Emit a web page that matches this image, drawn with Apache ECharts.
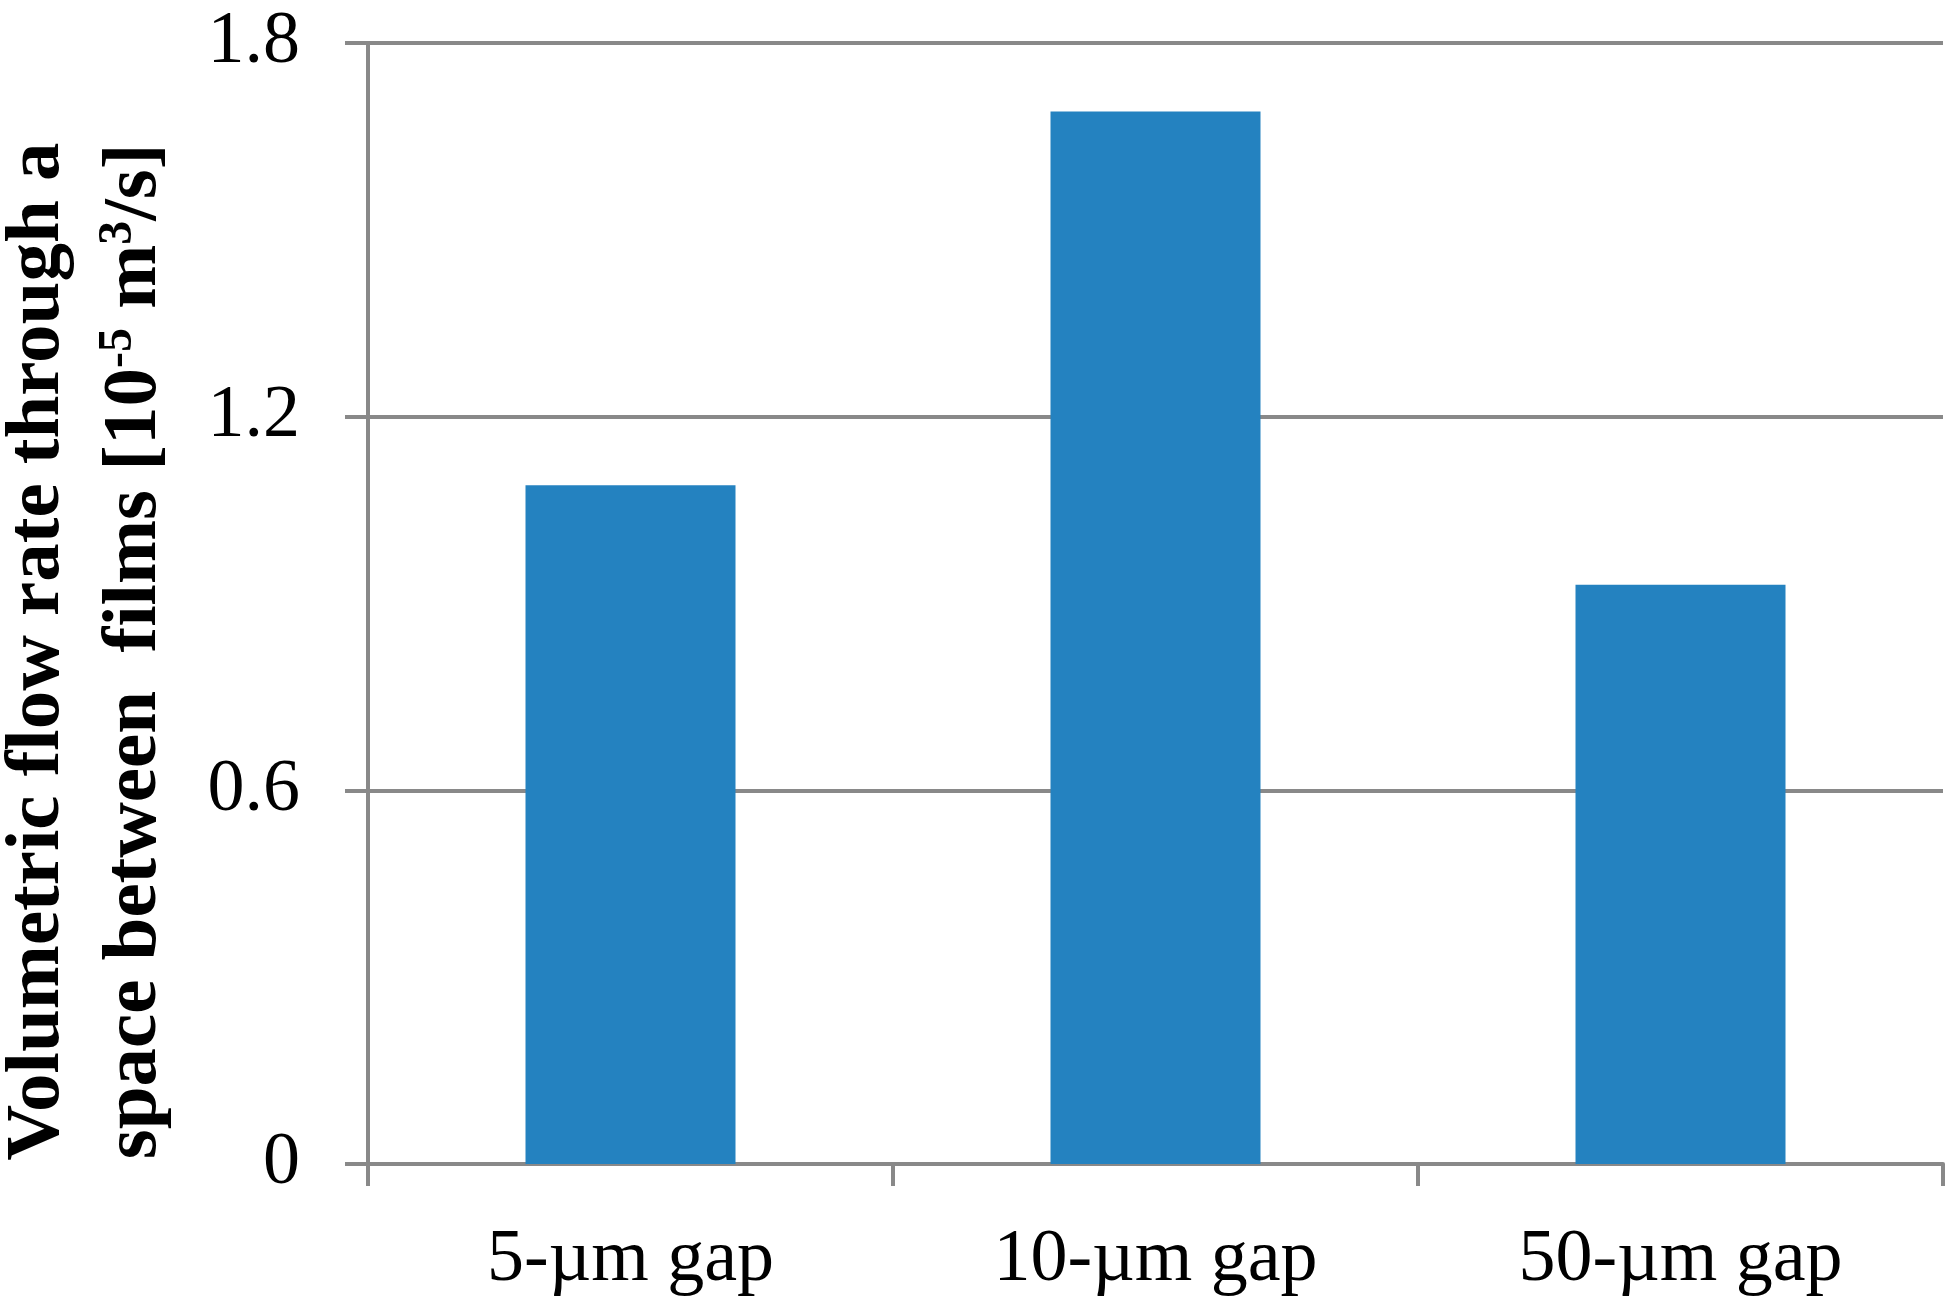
<!DOCTYPE html>
<html>
<head>
<meta charset="utf-8">
<script src="https://cdn.jsdelivr.net/npm/echarts@6/dist/echarts.min.js"></script>
<style>
html,body{margin:0;padding:0;background:#fff;}
#chart{width:1957px;height:1312px;}
</style>
</head>
<body>
<div id="chart"></div>
<script>
const categories = ['5-\u00b5m gap', '10-\u00b5m gap', '50-\u00b5m gap'];
const flowRate = [1.09, 1.69, 0.93];
const yTicks = [0, 0.6, 1.2, 1.8];

const chart = echarts.init(document.getElementById('chart'));
const serif = '"Liberation Serif", "Times New Roman", serif';
const gray = '#898989';

chart.setOption({
  animation: false,
  backgroundColor: '#fff',
  grid: { left: 368, right: 14, top: 43, bottom: 148, containLabel: false, outerBoundsMode: 'none' },
  xAxis: {
    type: 'category',
    data: categories,
    axisLine: { lineStyle: { color: gray, width: 4 } },
    axisTick: { show: true, length: 22, lineStyle: { color: gray, width: 4 } },
    axisLabel: { color: '#000', fontFamily: serif, fontSize: 74, margin: 60 }
  },
  yAxis: {
    type: 'value',
    min: yTicks[0],
    max: yTicks[yTicks.length - 1],
    interval: yTicks[1] - yTicks[0],
    axisLine: { show: true, lineStyle: { color: gray, width: 4 } },
    axisTick: { show: true, length: 23, lineStyle: { color: gray, width: 4 } },
    splitLine: { show: true, lineStyle: { color: gray, width: 4 } },
    axisLabel: { color: '#000', fontFamily: serif, fontSize: 74, margin: 68,
      formatter: v => String(v) },
    name: '{t|Volumetric flow rate through a}\n{t|space between  films [10}{s|-5}{t| m}{s|3}{t|/s]}',
    nameLocation: 'middle',
    nameGap: 184,
    nameRotate: 90,
    nameTextStyle: {
      padding: [0, 96, 0, 0],
      lineHeight: 97,
      rich: {
        t: { fontFamily: serif, fontWeight: 'bold', fontSize: 77, color: '#000', lineHeight: 97 },
        s: { fontFamily: serif, fontWeight: 'bold', fontSize: 48, color: '#000', lineHeight: 97, padding: [0, 0, 34, 0] }
      }
    }
  },
  series: [{
    type: 'bar',
    data: flowRate,
    barCategoryGap: '60%',
    itemStyle: { color: '#2482C0' }
  }]
});
</script>
</body>
</html>
